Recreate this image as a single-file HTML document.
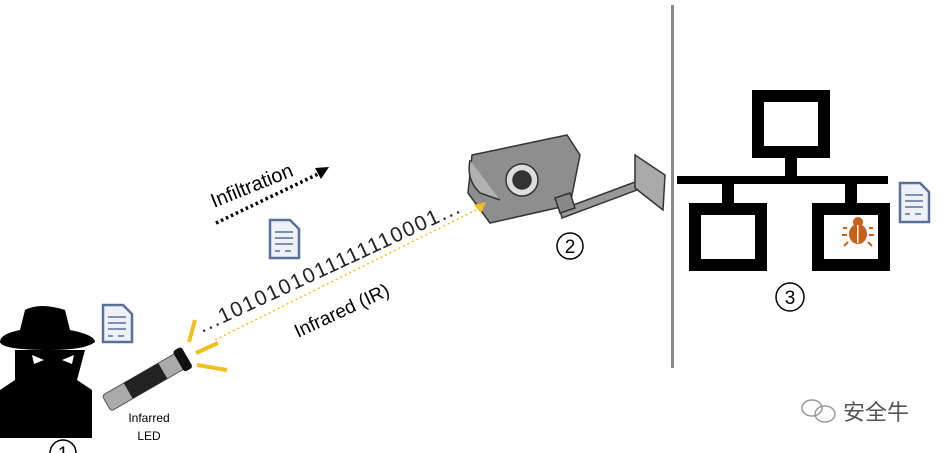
<!DOCTYPE html>
<html><head><style>
body{margin:0;width:942px;height:453px;background:#fff;overflow:hidden;position:relative;font-family:"Liberation Sans",sans-serif}
</style></head><body>
<svg width="942" height="453" style="position:absolute;left:0;top:0" font-family="Liberation Sans, sans-serif">
<rect x="671" y="5" width="3" height="363" fill="#8a8a8a"/>
<g fill="none" stroke="#000" stroke-width="12">
<rect x="758" y="96" width="66" height="56"/>
<rect x="695" y="209" width="66" height="56"/>
<rect x="818" y="209" width="66" height="56"/>
</g>
<rect x="785" y="152" width="12" height="26" fill="#000"/>
<rect x="677" y="176" width="211" height="8" fill="#000"/>
<rect x="722" y="184" width="12" height="22" fill="#000"/>
<rect x="845" y="184" width="12" height="22" fill="#000"/>
<g fill="#c8601a">
<ellipse cx="858" cy="234" rx="9" ry="10"/>
<circle cx="858" cy="222" r="5"/>
<path d="M847 228h-4M847 235h-5M848 242l-4 4M869 228h4M869 235h5M868 242l4 4" stroke="#c8601a" stroke-width="2"/>
</g>
<rect x="857" y="225" width="1.5" height="18" fill="#fff"/>
<g fill="#eef2f8" stroke="#5a7099" stroke-width="2.5">
<path d="M900 183h20l9 9v30h-29z"/>
<path d="M103 305h20l9 9v28h-29z"/>
<path d="M270 220h20l9 9v29h-29z"/>
</g>
<g stroke="#5a7099" stroke-width="1.5">
<path d="M905 195h18M905 201h18M905 207h18M905 214h5M915 214h6"/>
<path d="M108 317h18M108 323h18M108 329h18M108 336h5M118 336h6"/>
<path d="M275 232h18M275 238h18M275 244h18M275 251h5M285 251h6"/>
</g>
<g fill="none" stroke="#000" stroke-width="1.5">
<circle cx="570" cy="246" r="13"/><circle cx="790" cy="297" r="14"/><circle cx="63" cy="453" r="13"/>
</g>
<text x="570" y="253" font-size="19" text-anchor="middle">2</text>
<text x="790" y="304" font-size="19" text-anchor="middle">3</text>
<text x="63" y="460" font-size="19" text-anchor="middle">1</text>
<g stroke="#333" stroke-width="1.5">
<path d="M472 155l95-20 13 20-10 50-80 18-22-30z" fill="#8e8e8e"/>
<path d="M470 160q-4 20 10 33l20 7" fill="#b0b0b0"/>
<circle cx="522" cy="180" r="16" fill="#ddd"/><circle cx="522" cy="180" r="9" fill="#333"/>
<path d="M560 210l75-28 2 8-75 28z" fill="#999"/>
<path d="M635 155l30 20-2 35-28-22z" fill="#aaa"/>
<path d="M555 198l15-5 5 15-15 5z" fill="#888"/>
</g>
<g fill="#000">
<path d="M25 310q15-8 40 0l5 20q25 5 25 12q-10 8-45 8q-48 0-50-8q0-8 20-12z"/>
<path d="M15 350h70l-8 30 15 10v48h-92v-48l15-10z"/>
</g>
<path d="M32 355l12 5-10 4zM74 355l-12 5 10 4z" fill="#fff"/>
<g transform="rotate(-30 145 380)">
<rect x="100" y="372" width="90" height="18" rx="3" fill="#aaa" stroke="#555"/>
<rect x="125" y="372" width="40" height="18" fill="#222"/>
<rect x="183" y="369" width="10" height="24" rx="3" fill="#111"/>
</g>
<g stroke="#f0c020" stroke-width="4">
<path d="M195 320l-6 22M196 353l22-10M197 365l30 5"/>
</g>
<line x1="215" y1="340" x2="478" y2="209" stroke="#f0c020" stroke-width="1.5" stroke-dasharray="2 3"/>
<path d="M474 205l12-3-5 11z" fill="#f0c020"/>
<line x1="216" y1="223" x2="318" y2="174" stroke="#000" stroke-width="3.5" stroke-dasharray="2.5 3"/>
<path d="M315 168l14-1-8 12z" fill="#000"/>
<text transform="translate(214 208) rotate(-22)" font-size="20">Infiltration</text>
<text transform="translate(202 333) rotate(-25)" font-size="21" fill="#222" letter-spacing="1.6">...1010101011111110001...</text>
<text transform="translate(298 338) rotate(-25)" font-size="19">Infrared (IR)</text>
<text x="149" y="422" font-size="12" text-anchor="middle">Infarred</text>
<text x="149" y="440" font-size="12" text-anchor="middle">LED</text>
<text x="843" y="420" font-size="22" fill="#555" font-family="Liberation Sans, Noto Sans CJK SC, sans-serif">安全牛</text>
<g fill="none" stroke="#999" stroke-width="1.5"><ellipse cx="812" cy="408" rx="10" ry="8"/><ellipse cx="825" cy="414" rx="10" ry="8"/></g>
</svg>
</body></html>
